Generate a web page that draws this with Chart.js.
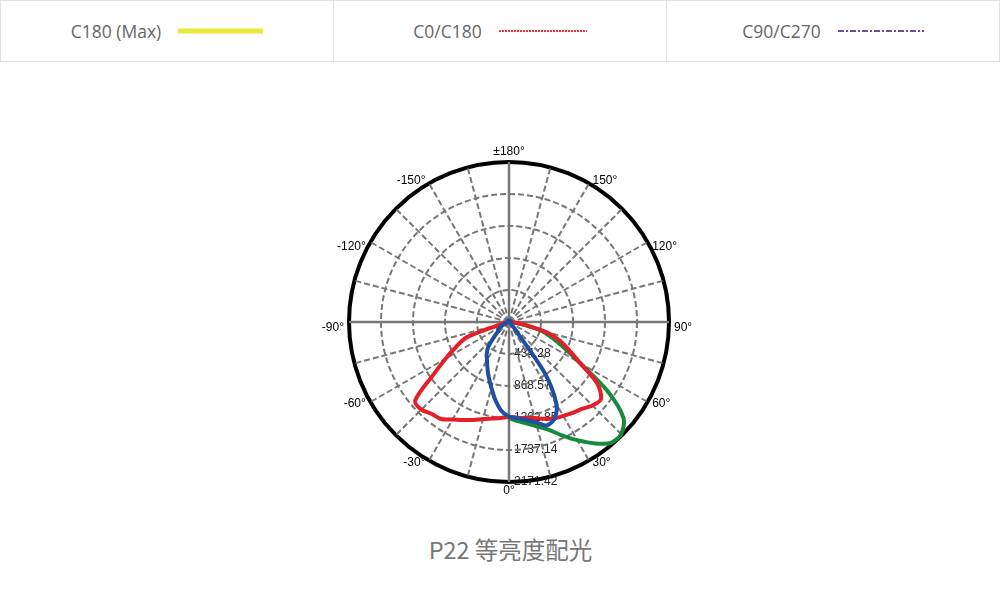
<!DOCTYPE html>
<html>
<head>
<meta charset="utf-8">
<title>P22 等亮度配光</title>
<script src="https://cdn.jsdelivr.net/npm/chart.js"></script>
<style>
    body { margin: 0; background: #fff; font-family: "Open Sans", sans-serif; }
    .legend { display: flex; width: 998px; height: 60px; border: 1px solid #e2e2e2; }
    .legend div { flex: 1; display: flex; align-items: center; justify-content: center;
                  color: #666; font-size: 17.5px; border-right: 1px solid #e2e2e2; }
    .legend div:last-child { border-right: none; }
    .legend svg { margin-left: 17px; }
    #chart-box { position: absolute; left: 309px; top: 122px; width: 400px; height: 400px; }
    .title { position: absolute; left: 0; top: 534px; width: 1021px; text-align: center;
             font-family: "Noto Sans CJK SC", sans-serif; font-size: 23.5px; line-height: 30px; color: #777; }
</style>
</head>
<body>
<div class="legend">
    <div>C180 (Max)<svg width="85" height="6"><line x1="0" y1="3" x2="85" y2="3" stroke="#ebe83a" stroke-width="5"/></svg></div>
    <div>C0/C180<svg width="88" height="4"><line x1="0" y1="2" x2="88" y2="2" stroke="#e8333a" stroke-width="2" stroke-dasharray="2 1"/></svg></div>
    <div>C90/C270<svg width="86" height="4"><line x1="0" y1="2" x2="86" y2="2" stroke="#6a4c9c" stroke-width="2" stroke-dasharray="6 2 2 2"/></svg></div>
</div>
<div id="chart-box"><canvas id="polar"></canvas></div>
<div class="title">P22 等亮度配光</div>

<script>
// angle of each spoke, clockwise from the top (180° at top, 0° at bottom)
const angles = [180, 175, 170, 165, 160, 155, 150, 145, 140, 135, 130, 125,
                120, 115, 110, 105, 100, 95, 90, 85, 80, 75, 70, 65,
                60, 55, 50, 45, 40, 35, 30, 25, 20, 15, 10, 5,
                0, -5, -10, -15, -20, -25, -30, -35, -40, -45, -50, -55,
                -60, -65, -70, -75, -80, -85, -90, -95, -100, -105, -110, -115,
                -120, -125, -130, -135, -140, -145, -150, -155, -160, -165, -170, -175];

const ringTicks = [0, 434.28, 868.57, 1302.85, 1737.14, 2171.42];

// cd values, same order as angles
const c180 = [null, null, null, null, null, null, null, null, null, null, null, null,
              null, null, null, null, null, null, 14, 60, 200, 450, 620, 820,
              1113, 1629, 2029, 2151, 2144, 2009, 1852, 1696, 1554, 1466, 1398, 1350,
              1303, null, null, null, null, null, null, null, null, null, null, null,
              null, null, null, null, null, null, null, null, null, null, null, null,
              null, null, null, null, null, null, null, null, null, null, null, null];

const c0c180 = [14, 14, 14, 14, 14, 14, 14, 14, 14, 14, 14, 14,
                14, 14, 14, 14, 14, 14, 27, 68, 204, 516, 733, 896,
                1113, 1466, 1629, 1601, 1540, 1506, 1472, 1445, 1398, 1350, 1323, 1303,
                1289, 1308, 1330, 1363, 1415, 1467, 1528, 1607, 1629, 1683, 1662, 1262,
                991, 787, 611, 109, 54, 27, 14, 14, 14, 14, 14, 14,
                14, 14, 14, 14, 14, 14, 14, 14, 14, 14, 14, 14];

const c90c270 = [20, 20, 20, 20, 20, 20, 20, 20, 20, 20, 20, 20,
                 20, 20, 20, 20, 20, 20, 27, 27, 27, 27, 27, 27,
                 30, 35, 41, 54, 109, 841, 1289, 1452, 1493, 1411, 1350, 1310,
                 1282, 1208, 1072, 923, 801, 692, 597, 529, 434, 285, 190, 180,
                 120, 68, 41, 34, 27, 27, 27, 20, 20, 20, 20, 20,
                 20, 20, 20, 20, 20, 20, 20, 20, 20, 20, 20, 20];

const angleLabels = angles.map(a => a % 30 !== 0 ? '' : (a === 180 ? '±180°' : a + '°'));

// ring values below the centre, and the angle names round the rim
const polarText = {
    id: 'polarText',
    beforeDraw(chart) {
        const s = chart.scales.r;
        const ctx = chart.ctx;
        ctx.save();
        ctx.font = '12px "Liberation Sans", Arial';
        ctx.fillStyle = '#222';
        ctx.textAlign = 'left';
        ctx.textBaseline = 'middle';
        ringTicks.forEach((v, i) => {
            if (i === 0) return;
            ctx.fillText(v.toFixed(2), s.xCenter + 5, s.yCenter + s.getDistanceFromCenterForValue(v));
        });
        ctx.restore();
    },
    afterDraw(chart) {
        const s = chart.scales.r;
        const ctx = chart.ctx;
        ctx.save();
        ctx.font = '12px "Liberation Sans", Arial';
        ctx.fillStyle = '#000';
        ctx.textBaseline = 'middle';
        angleLabels.forEach((text, i) => {
            if (!text) return;
            const a = angles[i];
            const p = s.getPointPosition(i, s.drawingArea + 3);
            let x = p.x, y = p.y;
            if (a === 180) { ctx.textAlign = 'center'; y -= 7; }
            else if (a === 0) { ctx.textAlign = 'center'; y += 6; }
            else {
                ctx.textAlign = a > 0 ? 'left' : 'right';
                x += a > 0 ? 2 : -2;
                if (Math.abs(a) >= 90 && Math.abs(a) <= 120) y += 6;
            }
            ctx.fillText(text, x, y);
        });
        ctx.restore();
    }
};

const line = (label, data, color, order) => ({
    label: label, data: data, borderColor: color, borderWidth: 4,
    pointRadius: 0, fill: false, tension: 0.3, order: order
});

new Chart(document.getElementById('polar'), {
    type: 'radar',
    data: {
        labels: angleLabels,
        datasets: [
            line('C180 (Max)', c180, '#178a3c', 3),
            line('C0/C180', c0c180, '#e61e27', 2),
            line('C90/C270', c90c270, '#1f4ea3', 1)
        ]
    },
    options: {
        responsive: true,
        maintainAspectRatio: false,
        animation: false,
        layout: { padding: 40 },
        plugins: { legend: { display: false }, tooltip: { enabled: false } },
        scales: {
            r: {
                min: 0,
                max: 2171.42,
                afterBuildTicks: s => { s.ticks = ringTicks.map(v => ({ value: v })); },
                ticks: { display: false },
                grid: {
                    circular: true,
                    color: c => c.index === 5 ? '#000' : '#777',
                    lineWidth: c => c.index === 5 ? 4 : 2
                },
                border: { dash: c => c.index === 5 ? [] : [6, 3] },
                angleLines: {
                    color: '#777',
                    lineWidth: c => angles[c.index] % 90 === 0 ? 2.5 : (angles[c.index] % 15 === 0 ? 2 : 0),
                    borderDash: c => angles[c.index] % 90 === 0 ? [] : [6, 3]
                },
                pointLabels: { display: false }
            }
        }
    },
    plugins: [polarText]
});
</script>
</body>
</html>
